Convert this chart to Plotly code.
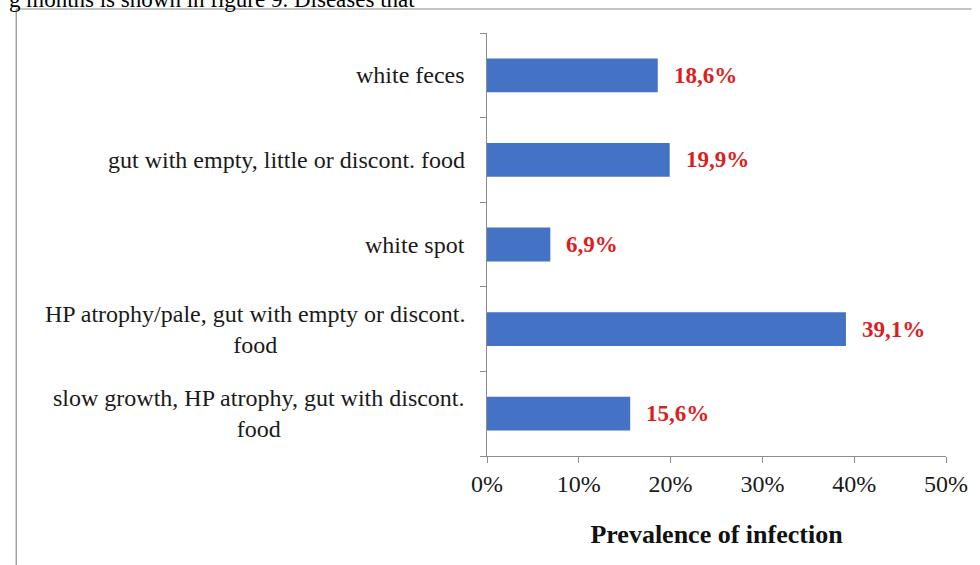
import plotly.graph_objects as go

categories = [
    "slow growth, HP atrophy, gut with discont.<br>food",
    "HP atrophy/pale, gut with empty or discont.<br>food",
    "white spot",
    "gut with empty, little or discont. food",
    "white feces",
]
values = [15.6, 39.1, 6.9, 19.9, 18.6]
x_ticks = [0, 10, 20, 30, 40, 50]
x_tick_labels = ["0%", "10%", "20%", "30%", "40%", "50%"]

W, H = 980, 565
L, R, T, B = 487, 25, 33, 109
pw, ph = W - L - R, H - T - B

def px_to_paper_x(px):
    return (px - L) / pw

def px_to_paper_y(py):
    return (H - B - py) / ph

serif = "Liberation Serif, Times New Roman, serif"
axis_col = "#8c8c8c"

fig = go.Figure()
fig.add_trace(go.Bar(
    y=categories, x=values, orientation="h",
    marker=dict(color="#4472C4", line=dict(width=0)),
    hoverinfo="skip",
))

annotations = []
for c, v in zip(categories, values):
    annotations.append(dict(
        x=v, y=c, xref="x", yref="y", xanchor="left", yanchor="middle",
        xshift=14, showarrow=False,
        text="<b>" + f"{v:.1f}".replace(".", ",") + "%</b>",
        font=dict(family=serif, size=23, color="#DC1E1E"),
    ))
    annotations.append(dict(
        x=0, y=c, xref="paper", yref="y", xanchor="right", yanchor="middle",
        xshift=-20, showarrow=False, align="center", text=c,
        font=dict(family=serif, size=24, color="#1a1a1a"),
    ))

annotations.append(dict(
    x=px_to_paper_x(-2), y=px_to_paper_y(-1), xref="paper", yref="paper",
    xanchor="left", yanchor="middle", showarrow=False,
    text="g months is shown in figure 9. Diseases that",
    font=dict(family=serif, size=23, color="#000000"),
))

shapes = [
    dict(type="line", xref="paper", yref="paper",
         x0=px_to_paper_x(7), x1=px_to_paper_x(7),
         y0=px_to_paper_y(9), y1=px_to_paper_y(566),
         line=dict(color="#8a8a8a", width=1.2)),
    dict(type="line", xref="paper", yref="paper",
         x0=px_to_paper_x(7), x1=px_to_paper_x(981),
         y0=px_to_paper_y(9), y1=px_to_paper_y(9),
         line=dict(color="#8a8a8a", width=1.2)),
]

fig.update_layout(
    width=W, height=H,
    margin=dict(l=L, r=R, t=T, b=B, pad=0),
    paper_bgcolor="white", plot_bgcolor="white",
    showlegend=False, bargap=0.6,
    annotations=annotations, shapes=shapes,
    xaxis=dict(
        range=[0, 50], tickvals=x_ticks, ticktext=x_tick_labels,
        showgrid=False, zeroline=False, showline=True, linecolor=axis_col, linewidth=1.2,
        ticks="outside", ticklen=6, tickcolor=axis_col, tickwidth=1.2,
        tickfont=dict(family=serif, size=24, color="#1a1a1a"),
        title=dict(text="<b>Prevalence of infection</b>",
                   font=dict(family=serif, size=26, color="#111111"), standoff=28),
        fixedrange=True,
    ),
    yaxis=dict(
        categoryorder="array", categoryarray=categories,
        showticklabels=False, showgrid=False, zeroline=False,
        showline=True, linecolor=axis_col, linewidth=1.2,
        ticks="outside", ticklen=6, tickcolor=axis_col, tickwidth=1.2,
        tickson="boundaries", fixedrange=True,
    ),
)

fig.write_html("out.html")
